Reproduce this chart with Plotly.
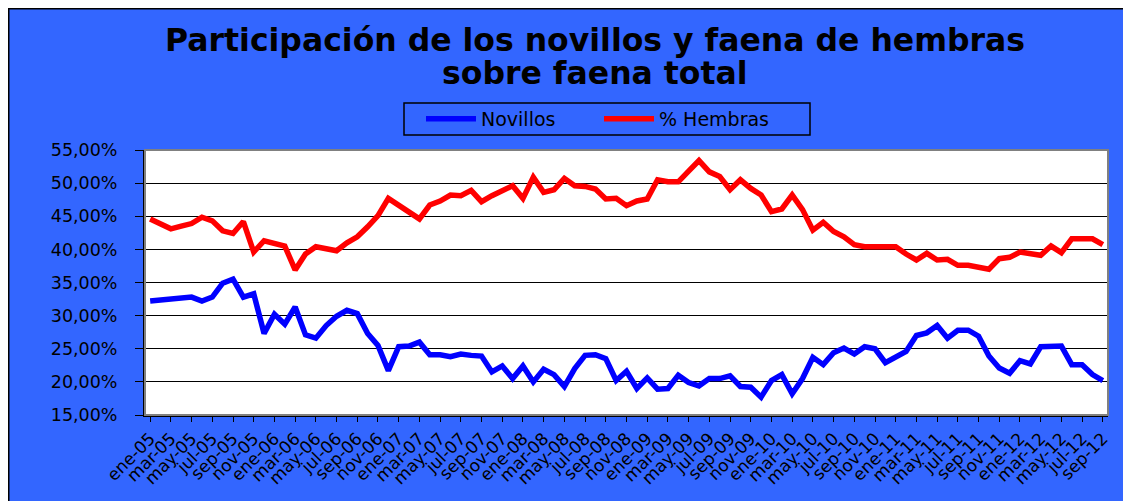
import plotly.graph_objects as go

meses = ["ene", "feb", "mar", "abr", "may", "jun", "jul", "ago", "sep", "oct", "nov", "dic"]
anios = ["05", "06", "07", "08", "09", "10", "11", "12"]
periodos = [f"{m}-{a}" for a in anios for m in meses][:93]

novillos = [
    32.2, 32.4, 32.4, 32.6, 32.8, 32.2, 32.8, 34.9, 35.5, 32.8, 33.3, 27.3,
    30.2, 28.7, 31.3, 27.1, 26.6, 28.5, 29.9, 30.8, 30.3, 27.3, 25.5, 21.7,
    25.3, 25.4, 26.0, 24.1, 24.1, 23.8, 24.2, 24.0, 23.9, 21.5, 22.4, 20.5,
    22.4, 20.0, 21.9, 21.1, 19.3, 22.0, 24.0, 24.1, 23.5, 20.2, 21.6, 19.0,
    20.6, 18.9, 19.0, 21.0, 19.9, 19.4, 20.5, 20.5, 20.9, 19.3, 19.2, 17.7,
    20.2, 21.1, 18.2, 20.5, 23.7, 22.6, 24.4, 25.1, 24.2, 25.3, 25.0, 22.9,
    23.7, 24.6, 27.0, 27.4, 28.5, 26.6, 27.8, 27.8, 26.9, 23.9, 22.1, 21.3,
    23.2, 22.7, 25.3, 25.3, 25.4, 22.6, 22.6, 21.1, 20.2,
]

hembras = [
    44.6, 43.9, 43.1, 43.5, 43.9, 44.85, 44.3, 42.8, 42.4, 44.2, 39.6, 41.3,
    40.9, 40.5, 36.9, 39.3, 40.4, 40.2, 39.8, 41.0, 41.9, 43.4, 45.1, 47.7,
    46.6, 45.7, 44.6, 46.7, 47.3, 48.2, 48.1, 48.9, 47.2, 48.1, 48.8, 49.6,
    47.7, 50.9, 48.6, 49.0, 50.7, 49.6, 49.5, 49.1, 47.6, 47.7, 46.6, 47.3,
    47.6, 50.5, 50.2, 50.2, 51.8, 53.4, 51.7, 51.0, 49.0, 50.5, 49.2, 48.2,
    45.7, 46.1, 48.2, 46.0, 42.9, 44.1, 42.7, 41.9, 40.7, 40.4, 40.4, 40.3,
    40.4, 39.3, 38.4, 39.4, 38.4, 38.5, 37.6, 37.6, 37.3, 37.0, 38.6, 38.8,
    39.6, 39.3, 39.1, 40.5, 39.5, 41.6, 41.7, 41.6, 40.7,
]

etiquetas_x = periodos[::2]
titulo_1 = "<b>Participación de los novillos y faena de hembras</b>"
titulo_2 = "<b>sobre faena total</b>"

AZUL_FONDO = "#3366FF"
FUENTE = "DejaVu Sans"

fig = go.Figure()
fig.add_trace(go.Scatter(x=periodos, y=novillos, name="Novillos", mode="lines",
                         line=dict(color="#0000FF", width=5.5)))
fig.add_trace(go.Scatter(x=periodos, y=hembras, name="% Hembras", mode="lines",
                         line=dict(color="#FF0000", width=5.5)))

# the page body adds an 8 px offset; figure sized to fit the window
W, H = 1123, 493
L, R, T, B = 137, 23, 142, 86
pw, ph = W - L - R, H - T - B


def px_x(p):
    return (p - L) / pw


def px_y(p):
    return (H - B - p) / ph


fig.update_layout(
    width=W, height=H, autosize=False,
    margin=dict(l=L, r=R, t=T, b=B, pad=0),
    paper_bgcolor=AZUL_FONDO,
    plot_bgcolor="white",
    separators=",.",
    font=dict(family=FUENTE, color="black"),
    showlegend=True,
    legend=dict(
        orientation="h",
        x=px_x(591), xanchor="center",
        y=px_y(111), yanchor="middle",
        bgcolor="rgba(0,0,0,0)", borderwidth=0,
        font=dict(family=FUENTE, size=19, color="black"),
        itemwidth=50,
        entrywidth=113,
    ),
    xaxis=dict(
        type="category",
        range=[-0.5, len(periodos) - 0.5],
        tickmode="array", tickvals=etiquetas_x, ticktext=etiquetas_x,
        tickangle=-45,
        tickfont=dict(family=FUENTE, size=17, color="black"),
        showline=True, linecolor="black", linewidth=2,
        ticks="outside", ticklen=5, tickcolor="black", tickwidth=1,
        showgrid=False, zeroline=False,
    ),
    yaxis=dict(
        range=[15, 55], tick0=15, dtick=5,
        tickformat=".2f", ticksuffix="%",
        tickfont=dict(family=FUENTE, size=17.5, color="black"),
        showline=True, linecolor="black", linewidth=2,
        ticks="outside", ticklen=8, tickcolor="black", tickwidth=1,
        showgrid=True, gridcolor="black", gridwidth=1,
        zeroline=False,
        ticklabelstandoff=14,
    ),
    annotations=[
        dict(text=titulo_1, xref="paper", yref="paper",
             x=px_x(587), y=px_y(32), xanchor="center", yanchor="middle",
             showarrow=False, font=dict(family=FUENTE, size=31.5, color="black")),
        dict(text=titulo_2, xref="paper", yref="paper",
             x=px_x(587), y=px_y(65), xanchor="center", yanchor="middle",
             showarrow=False, font=dict(family=FUENTE, size=31.5, color="black")),
    ],
    shapes=[
        # outer chart border
        dict(type="rect", xref="paper", yref="paper",
             x0=px_x(0.75), x1=px_x(W + 20), y0=px_y(H + 20), y1=px_y(0.75),
             fillcolor="rgba(0,0,0,0)", line=dict(color="black", width=1.5), layer="above"),
        # plot area frame
        dict(type="rect", xref="paper", yref="paper",
             x0=0, x1=1, y0=0, y1=1,
             fillcolor="rgba(0,0,0,0)", line=dict(color="#808080", width=2), layer="above"),
        # legend frame
        dict(type="rect", xref="paper", yref="paper",
             x0=px_x(396), x1=px_x(802), y0=px_y(127), y1=px_y(95),
             fillcolor="rgba(0,0,0,0)", line=dict(color="black", width=1.5), layer="above"),
    ],
)

fig.write_html("out.html")
